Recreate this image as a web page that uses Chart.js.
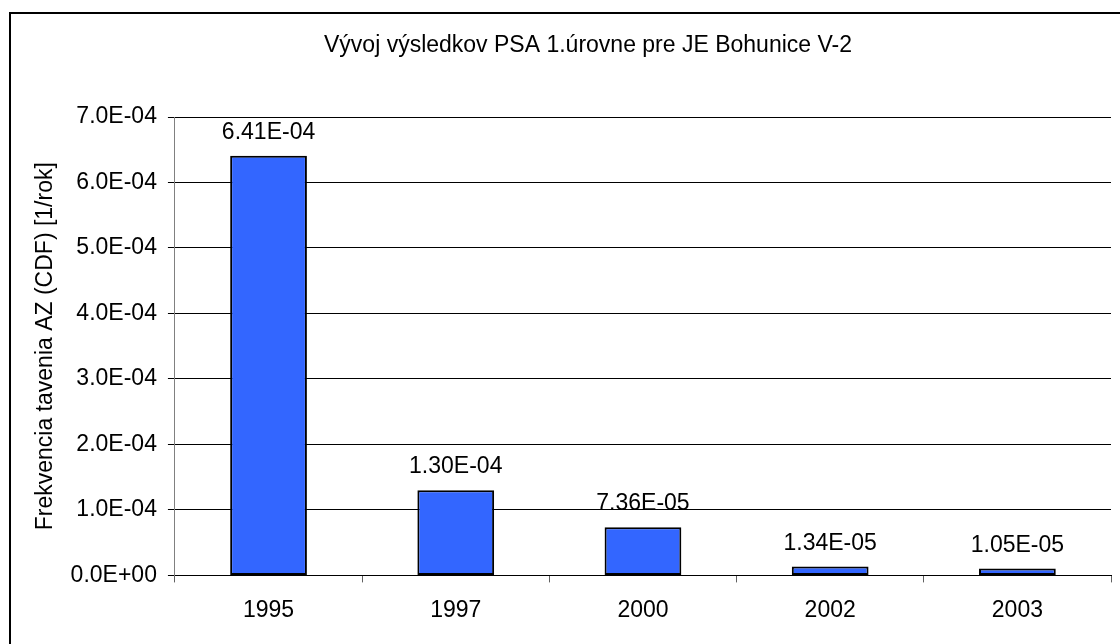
<!DOCTYPE html>
<html>
<head>
<meta charset="utf-8">
<script src="https://cdn.jsdelivr.net/npm/chart.js@4/dist/chart.umd.min.js"></script>
<style>
    html, body { margin: 0; padding: 0; background: #fff; overflow: hidden; width: 1120px; height: 644px; }
    .frame { position: absolute; left: 9px; top: 12px; width: 1200px; height: 700px; border-top: 2px solid #000; border-left: 2px solid #000; }
    #chart { position: absolute; left: 0; top: 0; }
</style>
</head>
<body>
<div class="frame"></div>
<canvas id="chart" width="1176" height="644"></canvas>
<script>
    // data
    const years = ['1995', '1997', '2000', '2002', '2003'];
    const cdfValues = [6.41e-4, 1.30e-4, 7.36e-5, 1.34e-5, 1.05e-5];
    const yMin = 0;
    const yMax = 7e-4;
    const yStep = 1e-4;

    const chartTitle = 'Vývoj výsledkov PSA 1.úrovne pre JE Bohunice V-2';
    const yTitle = 'Frekvencia tavenia AZ (CDF) [1/rok]';

    const fontFamily = '"Liberation Sans", Arial, sans-serif';
    const fontSize = 23;

    // 6.41e-4 -> "6.41E-04"
    const sci = (v, digits) => {
        const [m, e] = Number(v).toExponential(digits).split('e');
        const exp = parseInt(e, 10);
        const sign = exp < 0 ? '-' : '+';
        return m + 'E' + sign + String(Math.abs(exp)).padStart(2, '0');
    };

    // the chart object is wider than the visible picture, so the title sits
    // in the middle of the whole canvas rather than of the plot
    const centeredTitle = {
        id: 'centeredTitle',
        afterDraw(chart) {
            const ctx = chart.ctx;
            ctx.save();
            ctx.font = fontSize + 'px ' + fontFamily;
            ctx.fillStyle = '#000';
            ctx.textAlign = 'center';
            ctx.textBaseline = 'middle';
            ctx.fillText(chartTitle, chart.width / 2, 46);
            ctx.restore();
        }
    };

    const valueLabels = {
        id: 'valueLabels',
        afterDatasetsDraw(chart) {
            const ctx = chart.ctx;
            const meta = chart.getDatasetMeta(0);
            ctx.save();
            ctx.font = fontSize + 'px ' + fontFamily;
            ctx.fillStyle = '#000';
            ctx.textAlign = 'center';
            ctx.textBaseline = 'alphabetic';
            meta.data.forEach((bar, i) => {
                ctx.fillText(sci(cdfValues[i], 2), bar.x, bar.y - 17);
            });
            ctx.restore();
        }
    };

    new Chart(document.getElementById('chart').getContext('2d'), {
        type: 'bar',
        data: {
            labels: years,
            datasets: [{
                data: cdfValues,
                backgroundColor: '#3366FF',
                borderColor: '#000',
                borderWidth: 2,
                borderSkipped: false,
                categoryPercentage: 1,
                barPercentage: 0.41
            }]
        },
        options: {
            responsive: false,
            animation: false,
            devicePixelRatio: 1,
            layout: { padding: { left: 10, right: 65, top: 117, bottom: 6 } },
            plugins: {
                legend: { display: false },
                tooltip: { enabled: false },
                title: { display: false }
            },
            scales: {
                x: {
                    grid: { drawOnChartArea: false, drawTicks: true, tickLength: 7, color: '#606060' },
                    border: { color: '#000', width: 1 },
                    ticks: { color: '#000', padding: 14, font: { family: fontFamily, size: fontSize } }
                },
                y: {
                    min: yMin,
                    max: yMax,
                    grid: { color: '#000', tickLength: 7 },
                    border: { color: '#808080', width: 1 },
                    ticks: {
                        stepSize: yStep,
                        color: '#000',
                        padding: 11,
                        font: { family: fontFamily, size: fontSize },
                        callback: (v) => sci(v, 1)
                    },
                    title: {
                        display: true,
                        text: yTitle,
                        color: '#000',
                        font: { family: fontFamily, size: fontSize },
                        padding: { top: 22, bottom: 0 }
                    }
                }
            }
        },
        plugins: [valueLabels, centeredTitle]
    });
</script>
</body>
</html>
